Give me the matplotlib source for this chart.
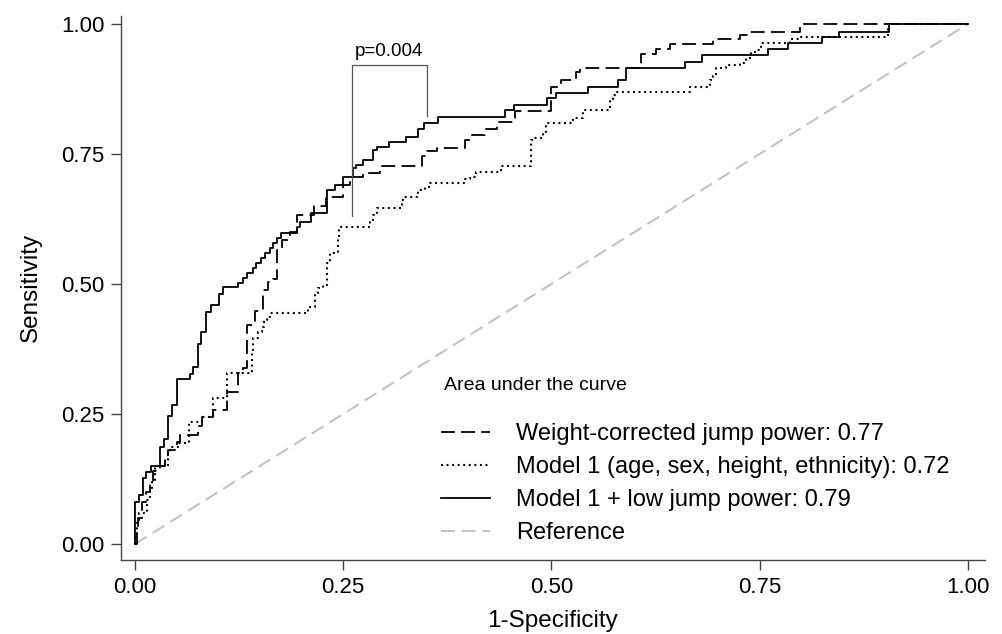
import matplotlib
matplotlib.use("Agg")
import matplotlib.pyplot as plt

plt.rcParams['font.family'] = ['Liberation Sans', 'DejaVu Sans']
plt.rcParams['lines.scale_dashes'] = False

# ROC curves: (1-specificity, sensitivity) at each step
jump_fpr = [0, 0.002, 0.004, 0.008, 0.013, 0.018, 0.022, 0.03, 0.036, 0.04, 0.05, 0.054,
            0.076, 0.08, 0.094, 0.11, 0.124, 0.13, 0.135, 0.144, 0.154, 0.16, 0.166, 0.17,
            0.176, 0.186, 0.195, 0.215, 0.229, 0.25, 0.258, 0.274, 0.294, 0.345, 0.351,
            0.363, 0.396, 0.405, 0.42, 0.435, 0.456, 0.5, 0.512, 0.53, 0.534, 0.608,
            0.626, 0.642, 0.694, 0.726, 0.738, 0.798, 1.0]
jump_tpr = [0, 0.03, 0.05, 0.08, 0.1, 0.12, 0.14, 0.15, 0.168, 0.18, 0.196, 0.21,
            0.226, 0.245, 0.258, 0.293, 0.329, 0.338, 0.421, 0.447, 0.488, 0.504, 0.51, 0.565,
            0.585, 0.6, 0.633, 0.65, 0.668, 0.69, 0.706, 0.714, 0.726, 0.745, 0.755,
            0.762, 0.777, 0.787, 0.798, 0.812, 0.833, 0.879, 0.892, 0.908, 0.915, 0.943,
            0.951, 0.962, 0.97, 0.979, 0.985, 1.0, 1.0]

model1_fpr = [0, 0, 0.002, 0.005, 0.014, 0.018, 0.02, 0.024, 0.04, 0.042, 0.053, 0.065,
              0.08, 0.094, 0.11, 0.14, 0.142, 0.148, 0.152, 0.155, 0.158, 0.162, 0.208,
              0.216, 0.22, 0.226, 0.23, 0.234, 0.244, 0.245, 0.282, 0.286, 0.29, 0.32,
              0.322, 0.34, 0.348, 0.354, 0.396, 0.402, 0.41, 0.44, 0.475, 0.478, 0.49,
              0.494, 0.526, 0.538, 0.57, 0.574, 0.578, 0.666, 0.69, 0.694, 0.698, 0.71,
              0.726, 0.734, 0.74, 0.744, 0.752, 0.786, 0.8, 0.904, 1.0]
model1_tpr = [0, 0.02, 0.046, 0.06, 0.085, 0.104, 0.123, 0.149, 0.175, 0.187, 0.194, 0.235,
              0.245, 0.281, 0.329, 0.373, 0.396, 0.408, 0.418, 0.43, 0.437, 0.445, 0.456,
              0.479, 0.492, 0.498, 0.54, 0.56, 0.59, 0.61, 0.62, 0.633, 0.646, 0.662,
              0.668, 0.68, 0.687, 0.694, 0.702, 0.706, 0.716, 0.727, 0.777, 0.78, 0.79,
              0.809, 0.819, 0.835, 0.854, 0.863, 0.869, 0.879, 0.892, 0.899, 0.915, 0.92,
              0.925, 0.934, 0.944, 0.95, 0.963, 0.97, 0.975, 1.0, 1.0]

combo_fpr = [0, 0, 0.005, 0.01, 0.013, 0.019, 0.03, 0.035, 0.04, 0.044, 0.05, 0.066,
             0.07, 0.076, 0.079, 0.085, 0.091, 0.101, 0.106, 0.124, 0.13, 0.134, 0.142,
             0.145, 0.151, 0.156, 0.162, 0.166, 0.17, 0.175, 0.194, 0.198, 0.211, 0.23,
             0.24, 0.25, 0.262, 0.265, 0.274, 0.286, 0.29, 0.305, 0.325, 0.34, 0.347,
             0.364, 0.444, 0.455, 0.495, 0.505, 0.544, 0.58, 0.589, 0.66, 0.681, 0.76,
             0.784, 0.825, 0.845, 0.905, 1.0]
combo_tpr = [0, 0.081, 0.094, 0.127, 0.138, 0.15, 0.187, 0.202, 0.246, 0.267, 0.317, 0.327,
             0.34, 0.385, 0.408, 0.446, 0.46, 0.481, 0.494, 0.502, 0.512, 0.521, 0.531,
             0.54, 0.55, 0.56, 0.569, 0.579, 0.588, 0.598, 0.61, 0.619, 0.637, 0.681,
             0.69, 0.706, 0.723, 0.729, 0.738, 0.758, 0.763, 0.773, 0.783, 0.798, 0.81,
             0.821, 0.835, 0.844, 0.858, 0.867, 0.879, 0.892, 0.915, 0.927, 0.94, 0.952,
             0.963, 0.975, 0.985, 1.0, 1.0]

legend_title = 'Area under the curve'
labels = ['Weight-corrected jump power: 0.77',
          'Model 1 (age, sex, height, ethnicity): 0.72',
          'Model 1 + low jump power: 0.79',
          'Reference']

# bracket for the p-value between the two curves
p_text = 'p=0.004'
bracket_x = [0.261, 0.350]
bracket_bottom = [0.631, 0.822]
bracket_top = 0.920

fig = plt.figure(figsize=(10.03, 6.34), dpi=100)
ax = fig.add_axes([0.1206, 0.1167, 0.8614, 0.8583])

ax.plot(jump_fpr, jump_tpr, color='black', lw=1.3, drawstyle='steps-post',
        linestyle=(0, (10, 4.5)), label=labels[0])
ax.plot(model1_fpr, model1_tpr, color='black', lw=1.5, drawstyle='steps-post',
        linestyle=(0, (1.4, 2.6)), label=labels[1])
ax.plot(combo_fpr, combo_tpr, color='black', lw=1.3, drawstyle='steps-post',
        label=labels[2])
ax.plot([0, 1], [0, 1], color='#c4c4c4', lw=1.5, linestyle=(0, (10, 5)),
        label=labels[3], zorder=1)

# p-value bracket
ax.plot([bracket_x[0], bracket_x[0], bracket_x[1], bracket_x[1]],
        [bracket_bottom[0], bracket_top, bracket_top, bracket_bottom[1]],
        color='#555555', lw=0.9)
ax.text(sum(bracket_x) / 2, bracket_top + 0.01, p_text, ha='center', va='bottom',
        fontsize=13.5)

ax.set_xlim(-0.0168, 1.0204)
ax.set_ylim(-0.0308, 1.0154)
ticks = [0, 0.25, 0.5, 0.75, 1.0]
ax.set_xticks(ticks)
ax.set_yticks(ticks)
ax.set_xticklabels(['%.2f' % t for t in ticks])
ax.set_yticklabels(['%.2f' % t for t in ticks])
ax.tick_params(direction='out', length=7, width=1, color='#444444', labelsize=16,
               pad=5)
for s in ['top', 'right']:
    ax.spines[s].set_visible(False)
for s in ['left', 'bottom']:
    ax.spines[s].set_color('#444444')
    ax.spines[s].set_linewidth(1)

ax.set_xlabel('1-Specificity', fontsize=17.5, labelpad=9)
ax.set_ylabel('Sensitivity', fontsize=17.5, labelpad=14)

ax.text(0.374, 0.321, legend_title, transform=ax.transAxes, ha='left', va='center',
        fontsize=14)
leg = ax.legend(loc='upper left', bbox_to_anchor=(0.370, 0.251), frameon=False,
                fontsize=17, handlelength=2.1, handletextpad=1.1,
                labelspacing=0.46, borderpad=0, borderaxespad=0)

plt.savefig('out.png', dpi=100)
plt.close()
